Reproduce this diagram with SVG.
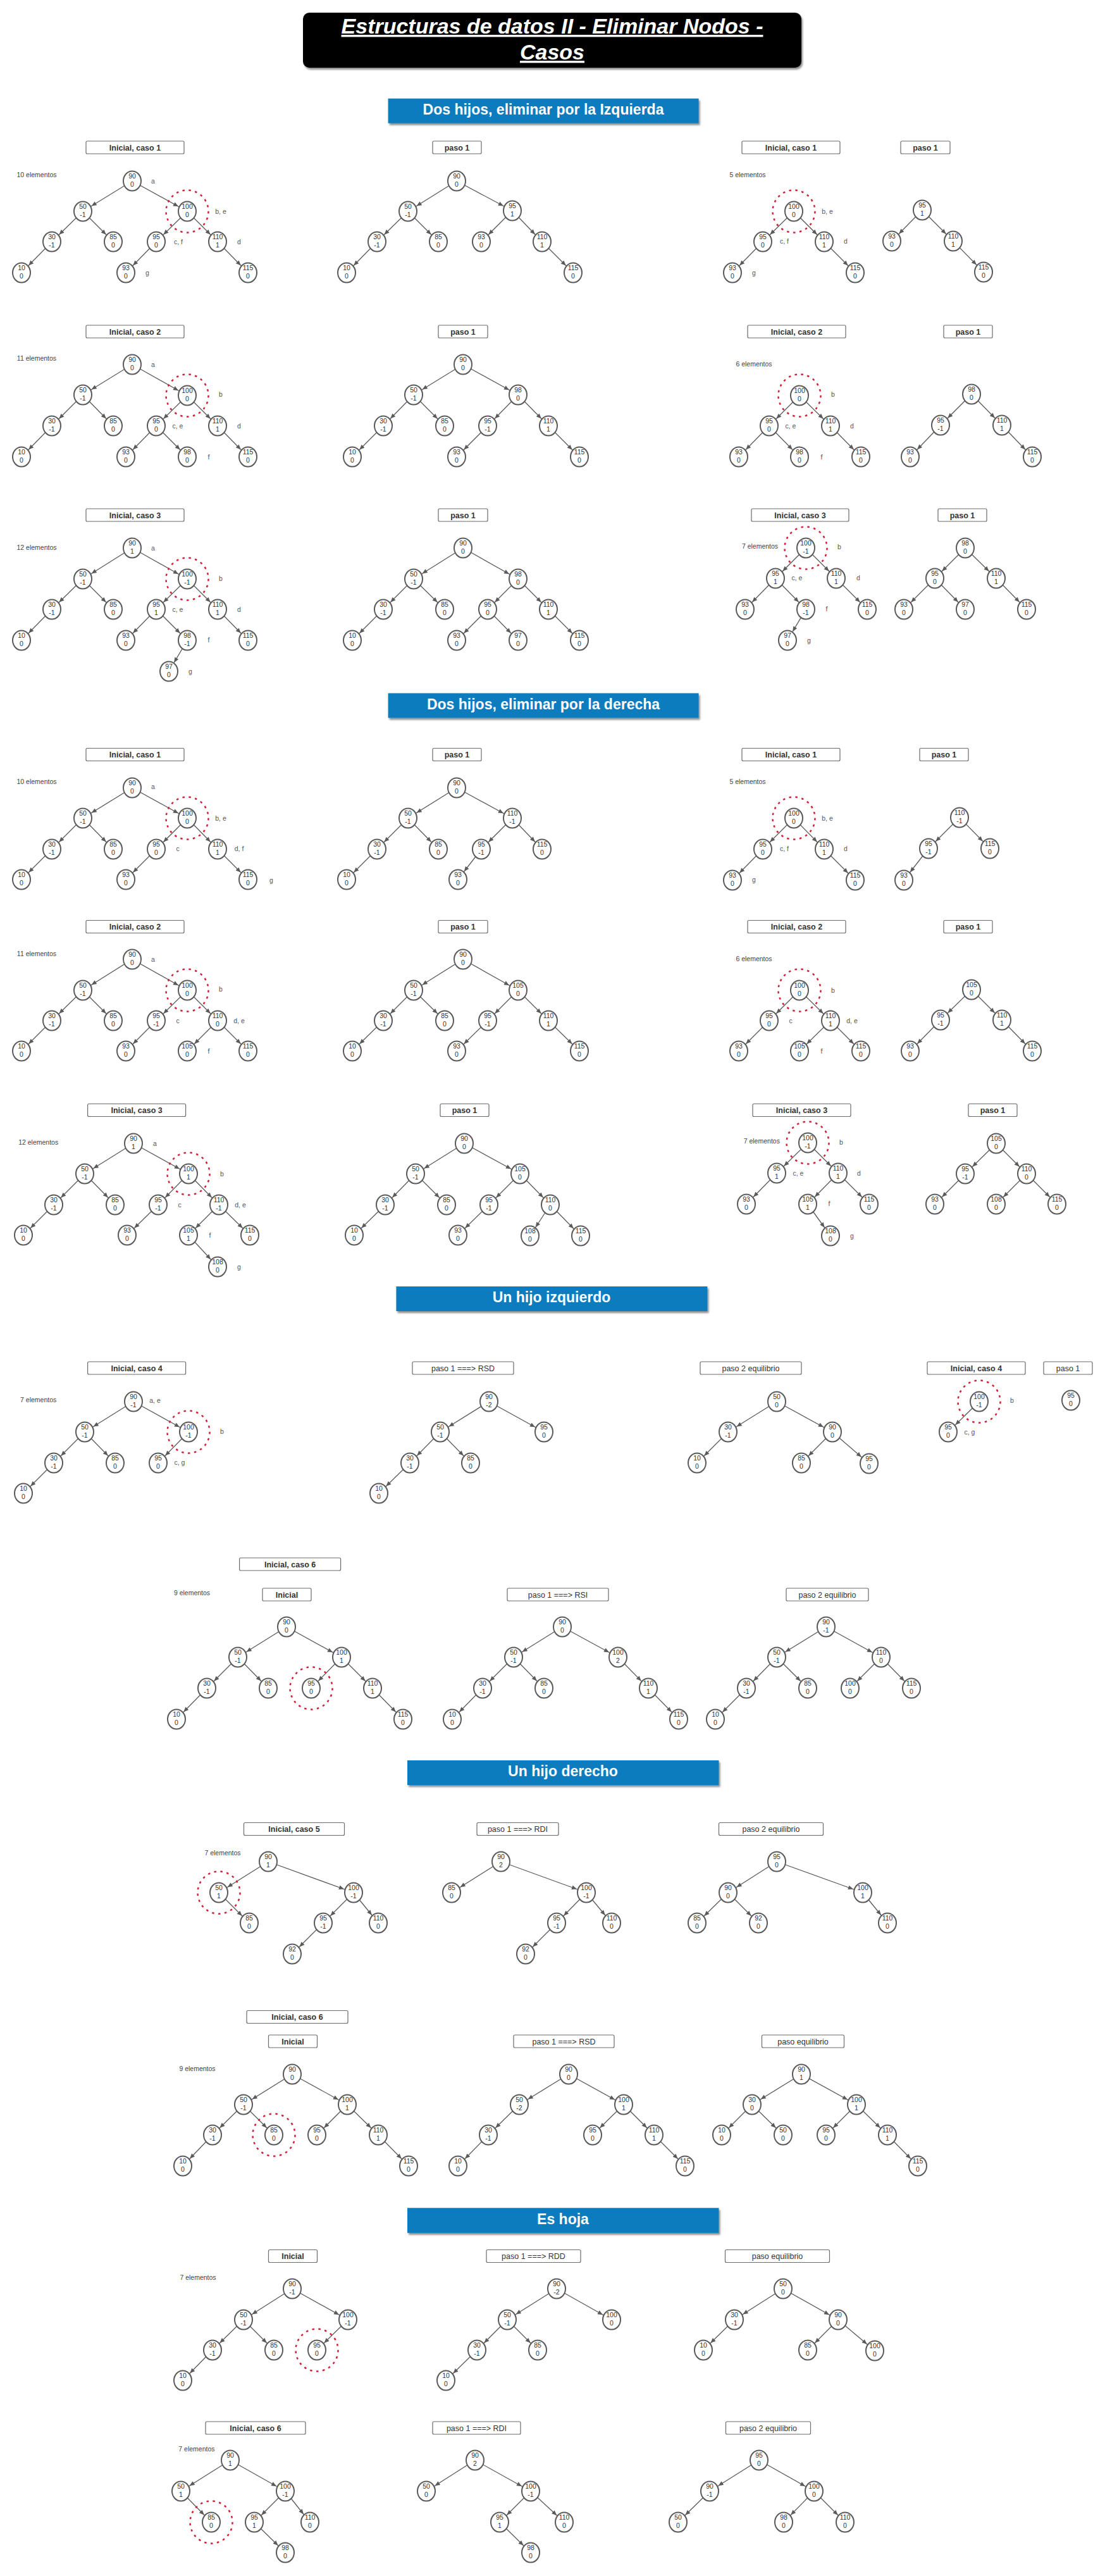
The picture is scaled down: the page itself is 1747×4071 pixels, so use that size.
<svg xmlns="http://www.w3.org/2000/svg" width="1747" height="4071" viewBox="0 0 1747 4071">
<defs>
<marker id="ah" viewBox="-25 -5 10 10" markerWidth="10" markerHeight="10" refX="0" refY="0" markerUnits="userSpaceOnUse" orient="auto"><path d="M-24,-3.4 L-16,0 L-24,3.4 Z" fill="#5a5a5a"/></marker>
<filter id="sh" x="-5%" y="-20%" width="112%" height="150%"><feDropShadow dx="2" dy="3" stdDeviation="1.5" flood-color="#000" flood-opacity="0.45"/></filter>
</defs>
<style>
text{font-family:"Liberation Sans",Arial,Helvetica,sans-serif}
.nd ellipse{fill:#fff;stroke:#5a5a5a;stroke-width:2}
.nd text{font-size:10.5px;fill:#333;text-anchor:middle}
.lbl{font-size:10.5px;fill:#555;text-anchor:middle}
.el{font-size:10.5px;fill:#444;text-anchor:middle}
.bx rect{fill:#fff;stroke:#6b6b6b;stroke-width:1.2}
.bx text{font-size:12.5px;fill:#333;text-anchor:middle}
.b text{font-weight:bold}
.del{fill:none;stroke:#d3213a;stroke-width:2.5;stroke-dasharray:3.5 6.5}
.hd rect{fill:#0e7cbf}
.hd text{font-size:23px;font-weight:bold;fill:#fff;text-anchor:middle}
.tt{font-size:34px;font-weight:bold;font-style:italic;text-decoration:underline;fill:#fff;text-anchor:middle}
#connectors line{stroke:#5a5a5a;stroke-width:1.3;marker-end:url(#ah)}
</style>
<rect width="1747" height="4071" fill="#fff"/>
<g id="title"><rect x="479" y="20" width="788" height="87" rx="10" fill="#000" filter="url(#sh)"/><text class="tt" x="873" y="53">Estructuras de datos II - Eliminar Nodos -</text><text class="tt" x="873" y="94">Casos</text></g>
<g id="h1" class="hd"><rect x="613.6" y="155.7" width="491" height="39" filter="url(#sh)"/><text x="859" y="180.5">Dos hijos, eliminar por la Izquierda</text></g>
<g id="h2" class="hd"><rect x="613.6" y="1095.5" width="491" height="39" filter="url(#sh)"/><text x="859" y="1120.5">Dos hijos, eliminar por la derecha</text></g>
<g id="h3" class="hd"><rect x="626.4" y="2033" width="492" height="39" filter="url(#sh)"/><text x="872" y="2058">Un hijo izquierdo</text></g>
<g id="h4" class="hd"><rect x="644" y="2782" width="492.5" height="39" filter="url(#sh)"/><text x="890" y="2807">Un hijo derecho</text></g>
<g id="h5" class="hd"><rect x="644" y="3489.3" width="492.5" height="39.5" filter="url(#sh)"/><text x="890" y="3514.5">Es hoja</text></g>

<g id="labels-boxes">
<g id="bx1" class="bx b"><rect x="136" y="223" width="155" height="20" rx="2"/><text x="213.5" y="237.5">Inicial, caso 1</text></g>
<g id="bx2" class="bx b"><rect x="684" y="223" width="77" height="20" rx="2"/><text x="722.5" y="237.5">paso 1</text></g>
<g id="bx3" class="bx b"><rect x="1173" y="223" width="155" height="20" rx="2"/><text x="1250.5" y="237.5">Inicial, caso 1</text></g>
<g id="bx4" class="bx b"><rect x="1424" y="223" width="78" height="20" rx="2"/><text x="1463" y="237.5">paso 1</text></g>
<g id="bx5" class="bx b"><rect x="136" y="514" width="155" height="20" rx="2"/><text x="213.5" y="528.5">Inicial, caso 2</text></g>
<g id="bx6" class="bx b"><rect x="693" y="514" width="78" height="20" rx="2"/><text x="732" y="528.5">paso 1</text></g>
<g id="bx7" class="bx b"><rect x="1182" y="514" width="155" height="20" rx="2"/><text x="1259.5" y="528.5">Inicial, caso 2</text></g>
<g id="bx8" class="bx b"><rect x="1492" y="514" width="77" height="20" rx="2"/><text x="1530.5" y="528.5">paso 1</text></g>
<g id="bx9" class="bx b"><rect x="136" y="804" width="155" height="20" rx="2"/><text x="213.5" y="818.5">Inicial, caso 3</text></g>
<g id="bx10" class="bx b"><rect x="693" y="804" width="78" height="20" rx="2"/><text x="732" y="818.5">paso 1</text></g>
<g id="bx11" class="bx b"><rect x="1188" y="804" width="154" height="20" rx="2"/><text x="1265" y="818.5">Inicial, caso 3</text></g>
<g id="bx12" class="bx b"><rect x="1483" y="804" width="77" height="20" rx="2"/><text x="1521.5" y="818.5">paso 1</text></g>
<g id="bx13" class="bx b"><rect x="136" y="1182.5" width="155" height="20" rx="2"/><text x="213.5" y="1197">Inicial, caso 1</text></g>
<g id="bx14" class="bx b"><rect x="684" y="1182.5" width="77" height="20" rx="2"/><text x="722.5" y="1197">paso 1</text></g>
<g id="bx15" class="bx b"><rect x="1173" y="1182.5" width="155" height="20" rx="2"/><text x="1250.5" y="1197">Inicial, caso 1</text></g>
<g id="bx16" class="bx b"><rect x="1454" y="1182.5" width="77" height="20" rx="2"/><text x="1492.5" y="1197">paso 1</text></g>
<g id="bx17" class="bx b"><rect x="136" y="1454.5" width="155" height="20" rx="2"/><text x="213.5" y="1469">Inicial, caso 2</text></g>
<g id="bx18" class="bx b"><rect x="693" y="1454.5" width="78" height="20" rx="2"/><text x="732" y="1469">paso 1</text></g>
<g id="bx19" class="bx b"><rect x="1182" y="1454.5" width="155" height="20" rx="2"/><text x="1259.5" y="1469">Inicial, caso 2</text></g>
<g id="bx20" class="bx b"><rect x="1492" y="1454.5" width="77" height="20" rx="2"/><text x="1530.5" y="1469">paso 1</text></g>
<g id="bx21" class="bx b"><rect x="138.6" y="1744.5" width="155" height="20" rx="2"/><text x="216.1" y="1759">Inicial, caso 3</text></g>
<g id="bx22" class="bx b"><rect x="696" y="1744.5" width="77" height="20" rx="2"/><text x="734.5" y="1759">paso 1</text></g>
<g id="bx23" class="bx b"><rect x="1190" y="1744.5" width="155" height="20" rx="2"/><text x="1267.5" y="1759">Inicial, caso 3</text></g>
<g id="bx24" class="bx b"><rect x="1531" y="1744.5" width="77" height="20" rx="2"/><text x="1569.5" y="1759">paso 1</text></g>
<g id="bx25" class="bx b"><rect x="138.6" y="2152" width="155" height="20" rx="2"/><text x="216.1" y="2166.5">Inicial, caso 4</text></g>
<g id="bx26" class="bx"><rect x="652" y="2152" width="160" height="20" rx="2"/><text x="732" y="2166.5">paso 1 ===&gt; RSD</text></g>
<g id="bx27" class="bx"><rect x="1107" y="2152" width="160" height="20" rx="2"/><text x="1187" y="2166.5">paso 2 equilibrio</text></g>
<g id="bx28" class="bx b"><rect x="1466" y="2152" width="155" height="20" rx="2"/><text x="1543.5" y="2166.5">Inicial, caso 4</text></g>
<g id="bx29" class="bx"><rect x="1650" y="2152" width="77" height="20" rx="2"/><text x="1688.5" y="2166.5">paso 1</text></g>
<g id="bx30" class="bx b"><rect x="378.6" y="2462" width="160" height="20" rx="2"/><text x="458.6" y="2476.5">Inicial, caso 6</text></g>
<g id="bx31" class="bx b"><rect x="415" y="2510" width="77" height="20" rx="2"/><text x="453.5" y="2524.5">Inicial</text></g>
<g id="bx32" class="bx"><rect x="802" y="2510" width="160" height="20" rx="2"/><text x="882" y="2524.5">paso 1 ===&gt; RSI</text></g>
<g id="bx33" class="bx"><rect x="1243" y="2510" width="130" height="20" rx="2"/><text x="1308" y="2524.5">paso 2 equilibrio</text></g>
<g id="bx34" class="bx b"><rect x="385.5" y="2880.5" width="159" height="20" rx="2"/><text x="465" y="2895">Inicial, caso 5</text></g>
<g id="bx35" class="bx"><rect x="754" y="2880.5" width="129" height="20" rx="2"/><text x="818.5" y="2895">paso 1 ===&gt; RDI</text></g>
<g id="bx36" class="bx"><rect x="1136.5" y="2880.5" width="165" height="20" rx="2"/><text x="1219" y="2895">paso 2 equilibrio</text></g>
<g id="bx37" class="bx b"><rect x="390" y="3177.5" width="160" height="20" rx="2"/><text x="470" y="3192">Inicial, caso 6</text></g>
<g id="bx38" class="bx b"><rect x="424.5" y="3216" width="77" height="20" rx="2"/><text x="463" y="3230.5">Inicial</text></g>
<g id="bx39" class="bx"><rect x="812" y="3216" width="159" height="20" rx="2"/><text x="891.5" y="3230.5">paso 1 ===&gt; RSD</text></g>
<g id="bx40" class="bx"><rect x="1204.5" y="3216" width="130" height="20" rx="2"/><text x="1269.5" y="3230.5">paso equilibrio</text></g>
<g id="bx41" class="bx b"><rect x="424.5" y="3555.5" width="77" height="20" rx="2"/><text x="463" y="3570">Inicial</text></g>
<g id="bx42" class="bx"><rect x="769" y="3555.5" width="149" height="20" rx="2"/><text x="843.5" y="3570">paso 1 ===&gt; RDD</text></g>
<g id="bx43" class="bx"><rect x="1146.5" y="3555.5" width="165" height="20" rx="2"/><text x="1229" y="3570">paso equilibrio</text></g>
<g id="bx44" class="bx b"><rect x="325" y="3827" width="158" height="20" rx="2"/><text x="404" y="3841.5">Inicial, caso 6</text></g>
<g id="bx45" class="bx"><rect x="684" y="3827" width="139" height="20" rx="2"/><text x="753.5" y="3841.5">paso 1 ===&gt; RDI</text></g>
<g id="bx46" class="bx"><rect x="1147.5" y="3827" width="134" height="20" rx="2"/><text x="1214.5" y="3841.5">paso 2 equilibrio</text></g>
</g>

<g id="texts">
<text class="el" x="58" y="279.5">10 elementos</text>
<text class="el" x="1182" y="279.5">5 elementos</text>
<text class="el" x="58" y="570">11 elementos</text>
<text class="el" x="1192" y="578.5">6 elementos</text>
<text class="el" x="58" y="868.5">12 elementos</text>
<text class="el" x="1201.5" y="866.8">7 elementos</text>
<text class="el" x="58" y="1239">10 elementos</text>
<text class="el" x="1182" y="1239">5 elementos</text>
<text class="el" x="58" y="1511">11 elementos</text>
<text class="el" x="1192" y="1519.3">6 elementos</text>
<text class="el" x="60.7" y="1809.2">12 elementos</text>
<text class="el" x="1204.3" y="1806.8">7 elementos</text>
<text class="el" x="60.7" y="2216.2">7 elementos</text>
<text class="el" x="303.5" y="2521">9 elementos</text>
<text class="el" x="352" y="2931.8">7 elementos</text>
<text class="el" x="312" y="3272.8">9 elementos</text>
<text class="el" x="313" y="3602.8">7 elementos</text>
<text class="el" x="310.9" y="3873.9">7 elementos</text>
<text class="lbl" x="242" y="289.5">a</text><text class="lbl" x="349" y="337.5">b, e</text><text class="lbl" x="282" y="385.5">c, f</text><text class="lbl" x="378" y="385.5">d</text><text class="lbl" x="233" y="434.5">g</text>
<text class="lbl" x="1308" y="337.5">b, e</text><text class="lbl" x="1240" y="384.5">c, f</text><text class="lbl" x="1337" y="384.5">d</text><text class="lbl" x="1192" y="434.5">g</text>
<text class="lbl" x="242" y="579.5">a</text><text class="lbl" x="349" y="626.5">b</text><text class="lbl" x="281" y="676.5">c, e</text><text class="lbl" x="378" y="676.5">d</text><text class="lbl" x="330" y="725.5">f</text>
<text class="lbl" x="1317" y="626.5">b</text><text class="lbl" x="1250" y="676.5">c, e</text><text class="lbl" x="1347" y="676.5">d</text><text class="lbl" x="1299" y="725.5">f</text>
<text class="lbl" x="242" y="869.5">a</text><text class="lbl" x="349" y="917.5">b</text><text class="lbl" x="281" y="966.5">c, e</text><text class="lbl" x="378" y="966.5">d</text><text class="lbl" x="330" y="1014.5">f</text><text class="lbl" x="301" y="1064.5">g</text>
<text class="lbl" x="1327" y="867.5">b</text><text class="lbl" x="1260" y="916.5">c, e</text><text class="lbl" x="1357" y="916.5">d</text><text class="lbl" x="1307" y="965.5">f</text><text class="lbl" x="1279" y="1015.5">g</text>
<text class="lbl" x="242" y="1247">a</text><text class="lbl" x="349" y="1296.5">b, e</text><text class="lbl" x="281" y="1344.5">c</text><text class="lbl" x="378" y="1344.5">d, f</text><text class="lbl" x="429" y="1394.5">g</text>
<text class="lbl" x="1308" y="1296.5">b, e</text><text class="lbl" x="1240" y="1344.5">c, f</text><text class="lbl" x="1337" y="1344.5">d</text><text class="lbl" x="1192" y="1393.5">g</text>
<text class="lbl" x="242" y="1519.5">a</text><text class="lbl" x="349" y="1567">b</text><text class="lbl" x="281" y="1616.5">c</text><text class="lbl" x="378" y="1616.5">d, e</text><text class="lbl" x="330" y="1664.5">f</text>
<text class="lbl" x="1317" y="1568.5">b</text><text class="lbl" x="1250" y="1616.5">c</text><text class="lbl" x="1347" y="1616.5">d, e</text><text class="lbl" x="1299" y="1664.5">f</text>
<text class="lbl" x="245" y="1810.5">a</text><text class="lbl" x="351" y="1858.5">b</text><text class="lbl" x="284" y="1907.5">c</text><text class="lbl" x="380" y="1907.5">d, e</text><text class="lbl" x="332" y="1955.5">f</text><text class="lbl" x="378" y="2005.5">g</text>
<text class="lbl" x="1330" y="1808.5">b</text><text class="lbl" x="1262" y="1857.5">c, e</text><text class="lbl" x="1358" y="1857.5">d</text><text class="lbl" x="1311" y="1905.5">f</text><text class="lbl" x="1347" y="1956.5">g</text>
<text class="lbl" x="245" y="2216.5">a, e</text><text class="lbl" x="351" y="2265.5">b</text><text class="lbl" x="284" y="2314.5">c, g</text>
<text class="lbl" x="1600" y="2216.5">b</text><text class="lbl" x="1533" y="2266.5">c, g</text>
</g>

<g id="connectors">
<line x1="209" y1="286" x2="131" y2="334"/><line x1="209" y1="286" x2="296" y2="334"/><line x1="131" y1="334" x2="82" y2="382"/><line x1="131" y1="334" x2="179" y2="382"/><line x1="296" y1="334" x2="247" y2="382"/><line x1="296" y1="334" x2="344" y2="382"/><line x1="82" y1="382" x2="34" y2="431"/><line x1="247" y1="382" x2="199" y2="431"/><line x1="344" y1="382" x2="392" y2="431"/>
<line x1="722" y1="286" x2="645" y2="334"/><line x1="722" y1="286" x2="810" y2="333"/><line x1="645" y1="334" x2="596" y2="382"/><line x1="645" y1="334" x2="693" y2="382"/><line x1="810" y1="333" x2="761" y2="382"/><line x1="810" y1="333" x2="857" y2="382"/><line x1="596" y1="382" x2="548" y2="431"/><line x1="857" y1="382" x2="906" y2="431"/>
<line x1="1255" y1="334" x2="1206" y2="382"/><line x1="1255" y1="334" x2="1303" y2="382"/><line x1="1206" y1="382" x2="1158" y2="431"/><line x1="1303" y1="382" x2="1352" y2="431"/>
<line x1="1458" y1="332" x2="1410" y2="381"/><line x1="1458" y1="332" x2="1507" y2="381"/><line x1="1507" y1="381" x2="1555" y2="430"/>
<line x1="209" y1="576" x2="131" y2="624"/><line x1="209" y1="576" x2="296" y2="625"/><line x1="131" y1="624" x2="82" y2="673"/><line x1="131" y1="624" x2="179" y2="673"/><line x1="296" y1="625" x2="247" y2="673"/><line x1="296" y1="625" x2="344" y2="673"/><line x1="82" y1="673" x2="34" y2="722"/><line x1="247" y1="673" x2="199" y2="722"/><line x1="247" y1="673" x2="296" y2="722"/><line x1="344" y1="673" x2="392" y2="722"/>
<line x1="732" y1="576" x2="654" y2="624"/><line x1="732" y1="576" x2="819" y2="624"/><line x1="654" y1="624" x2="606" y2="673"/><line x1="654" y1="624" x2="703" y2="673"/><line x1="819" y1="624" x2="771" y2="673"/><line x1="819" y1="624" x2="867" y2="673"/><line x1="606" y1="673" x2="557" y2="722"/><line x1="771" y1="673" x2="722" y2="722"/><line x1="867" y1="673" x2="916" y2="722"/>
<line x1="1264" y1="625" x2="1216" y2="673"/><line x1="1264" y1="625" x2="1313" y2="673"/><line x1="1216" y1="673" x2="1168" y2="722"/><line x1="1216" y1="673" x2="1264" y2="722"/><line x1="1313" y1="673" x2="1361" y2="722"/>
<line x1="1536" y1="623" x2="1487" y2="672"/><line x1="1536" y1="623" x2="1584" y2="672"/><line x1="1487" y1="672" x2="1439" y2="722"/><line x1="1584" y1="672" x2="1632" y2="722"/>
<line x1="209" y1="866" x2="131" y2="915"/><line x1="209" y1="866" x2="296" y2="915"/><line x1="131" y1="915" x2="82" y2="963"/><line x1="131" y1="915" x2="179" y2="963"/><line x1="296" y1="915" x2="247" y2="963"/><line x1="296" y1="915" x2="344" y2="963"/><line x1="82" y1="963" x2="34" y2="1012"/><line x1="247" y1="963" x2="199" y2="1012"/><line x1="247" y1="963" x2="296" y2="1012"/><line x1="344" y1="963" x2="392" y2="1012"/><line x1="296" y1="1012" x2="267" y2="1061"/>
<line x1="732" y1="866" x2="654" y2="915"/><line x1="732" y1="866" x2="819" y2="915"/><line x1="654" y1="915" x2="606" y2="963"/><line x1="654" y1="915" x2="703" y2="963"/><line x1="819" y1="915" x2="771" y2="963"/><line x1="819" y1="915" x2="867" y2="963"/><line x1="606" y1="963" x2="557" y2="1012"/><line x1="771" y1="963" x2="722" y2="1012"/><line x1="771" y1="963" x2="819" y2="1012"/><line x1="867" y1="963" x2="916" y2="1012"/>
<line x1="1274" y1="866" x2="1226" y2="914"/><line x1="1274" y1="866" x2="1322" y2="914"/><line x1="1226" y1="914" x2="1178" y2="963"/><line x1="1226" y1="914" x2="1274" y2="963"/><line x1="1322" y1="914" x2="1371" y2="963"/><line x1="1274" y1="963" x2="1245" y2="1012"/>
<line x1="1526" y1="866" x2="1478" y2="914"/><line x1="1526" y1="866" x2="1575" y2="914"/><line x1="1478" y1="914" x2="1429" y2="963"/><line x1="1478" y1="914" x2="1526" y2="963"/><line x1="1575" y1="914" x2="1623" y2="963"/>
<line x1="209" y1="1245" x2="131" y2="1293"/><line x1="209" y1="1245" x2="296" y2="1293"/><line x1="131" y1="1293" x2="82" y2="1342"/><line x1="131" y1="1293" x2="179" y2="1342"/><line x1="296" y1="1293" x2="247" y2="1342"/><line x1="296" y1="1293" x2="344" y2="1342"/><line x1="82" y1="1342" x2="34" y2="1390"/><line x1="247" y1="1342" x2="199" y2="1390"/><line x1="344" y1="1342" x2="392" y2="1390"/>
<line x1="722" y1="1245" x2="645" y2="1293"/><line x1="722" y1="1245" x2="810" y2="1293"/><line x1="645" y1="1293" x2="596" y2="1342"/><line x1="645" y1="1293" x2="693" y2="1342"/><line x1="810" y1="1293" x2="761" y2="1342"/><line x1="810" y1="1293" x2="857" y2="1342"/><line x1="596" y1="1342" x2="548" y2="1390"/><line x1="761" y1="1342" x2="724" y2="1390"/>
<line x1="1255" y1="1293" x2="1206" y2="1342"/><line x1="1255" y1="1293" x2="1303" y2="1342"/><line x1="1206" y1="1342" x2="1158" y2="1391"/><line x1="1303" y1="1342" x2="1352" y2="1391"/>
<line x1="1517" y1="1292" x2="1468" y2="1341"/><line x1="1517" y1="1292" x2="1565" y2="1341"/><line x1="1468" y1="1341" x2="1429" y2="1391"/>
<line x1="209" y1="1516" x2="131" y2="1565"/><line x1="209" y1="1516" x2="296" y2="1565"/><line x1="131" y1="1565" x2="82" y2="1613"/><line x1="131" y1="1565" x2="179" y2="1613"/><line x1="296" y1="1565" x2="247" y2="1613"/><line x1="296" y1="1565" x2="344" y2="1613"/><line x1="82" y1="1613" x2="34" y2="1661"/><line x1="247" y1="1613" x2="199" y2="1661"/><line x1="344" y1="1613" x2="296" y2="1661"/><line x1="344" y1="1613" x2="392" y2="1661"/>
<line x1="732" y1="1516" x2="654" y2="1565"/><line x1="732" y1="1516" x2="819" y2="1565"/><line x1="654" y1="1565" x2="606" y2="1613"/><line x1="654" y1="1565" x2="703" y2="1613"/><line x1="819" y1="1565" x2="771" y2="1613"/><line x1="819" y1="1565" x2="867" y2="1613"/><line x1="606" y1="1613" x2="557" y2="1661"/><line x1="771" y1="1613" x2="722" y2="1661"/><line x1="867" y1="1613" x2="916" y2="1661"/>
<line x1="1264" y1="1565" x2="1216" y2="1613"/><line x1="1264" y1="1565" x2="1313" y2="1613"/><line x1="1216" y1="1613" x2="1168" y2="1661"/><line x1="1313" y1="1613" x2="1264" y2="1661"/><line x1="1313" y1="1613" x2="1361" y2="1661"/>
<line x1="1536" y1="1564" x2="1487" y2="1612"/><line x1="1536" y1="1564" x2="1584" y2="1612"/><line x1="1487" y1="1612" x2="1439" y2="1661"/><line x1="1584" y1="1612" x2="1632" y2="1661"/>
<line x1="211" y1="1807" x2="134" y2="1855"/><line x1="211" y1="1807" x2="298" y2="1855"/><line x1="134" y1="1855" x2="85" y2="1904"/><line x1="134" y1="1855" x2="182" y2="1904"/><line x1="298" y1="1855" x2="250" y2="1904"/><line x1="298" y1="1855" x2="346" y2="1904"/><line x1="85" y1="1904" x2="37" y2="1952"/><line x1="250" y1="1904" x2="201" y2="1952"/><line x1="346" y1="1904" x2="298" y2="1952"/><line x1="346" y1="1904" x2="395" y2="1952"/><line x1="298" y1="1952" x2="344" y2="2002"/>
<line x1="734" y1="1807" x2="657" y2="1855"/><line x1="734" y1="1807" x2="822" y2="1855"/><line x1="657" y1="1855" x2="609" y2="1904"/><line x1="657" y1="1855" x2="706" y2="1904"/><line x1="822" y1="1855" x2="773" y2="1904"/><line x1="822" y1="1855" x2="870" y2="1904"/><line x1="609" y1="1904" x2="560" y2="1952"/><line x1="773" y1="1904" x2="724" y2="1952"/><line x1="870" y1="1904" x2="838" y2="1953"/><line x1="870" y1="1904" x2="918" y2="1953"/>
<line x1="1277" y1="1806" x2="1228" y2="1854"/><line x1="1277" y1="1806" x2="1325" y2="1854"/><line x1="1228" y1="1854" x2="1180" y2="1903"/><line x1="1325" y1="1854" x2="1277" y2="1903"/><line x1="1325" y1="1854" x2="1374" y2="1903"/><line x1="1277" y1="1903" x2="1313" y2="1953"/>
<line x1="1575" y1="1807" x2="1526" y2="1855"/><line x1="1575" y1="1807" x2="1623" y2="1855"/><line x1="1526" y1="1855" x2="1478" y2="1903"/><line x1="1623" y1="1855" x2="1575" y2="1903"/><line x1="1623" y1="1855" x2="1671" y2="1903"/>
<line x1="211" y1="2215" x2="134" y2="2263"/><line x1="211" y1="2215" x2="298" y2="2263"/><line x1="134" y1="2263" x2="85" y2="2312"/><line x1="134" y1="2263" x2="182" y2="2312"/><line x1="298" y1="2263" x2="250" y2="2312"/><line x1="85" y1="2312" x2="37" y2="2360"/>
<line x1="773" y1="2215" x2="696" y2="2263"/><line x1="773" y1="2215" x2="860" y2="2263"/><line x1="696" y1="2263" x2="648" y2="2312"/><line x1="696" y1="2263" x2="744" y2="2312"/><line x1="648" y1="2312" x2="599" y2="2360"/>
<line x1="1228" y1="2215" x2="1151" y2="2263"/><line x1="1228" y1="2215" x2="1316" y2="2263"/><line x1="1151" y1="2263" x2="1102" y2="2312"/><line x1="1316" y1="2263" x2="1267" y2="2312"/><line x1="1316" y1="2263" x2="1374" y2="2313"/>
<line x1="1548" y1="2215" x2="1499" y2="2263"/>
<line x1="453" y1="2571" x2="376" y2="2619"/><line x1="453" y1="2571" x2="540" y2="2619"/><line x1="376" y1="2619" x2="327" y2="2668"/><line x1="376" y1="2619" x2="424" y2="2668"/><line x1="540" y1="2619" x2="492" y2="2668"/><line x1="540" y1="2619" x2="589" y2="2668"/><line x1="327" y1="2668" x2="279" y2="2717"/><line x1="589" y1="2668" x2="637" y2="2717"/>
<line x1="889" y1="2571" x2="812" y2="2619"/><line x1="889" y1="2571" x2="977" y2="2619"/><line x1="812" y1="2619" x2="763" y2="2668"/><line x1="812" y1="2619" x2="860" y2="2668"/><line x1="977" y1="2619" x2="1025" y2="2668"/><line x1="763" y1="2668" x2="715" y2="2717"/><line x1="1025" y1="2668" x2="1073" y2="2717"/>
<line x1="1306" y1="2571" x2="1228" y2="2619"/><line x1="1306" y1="2571" x2="1393" y2="2619"/><line x1="1228" y1="2619" x2="1180" y2="2668"/><line x1="1228" y1="2619" x2="1277" y2="2668"/><line x1="1393" y1="2619" x2="1344" y2="2668"/><line x1="1393" y1="2619" x2="1441" y2="2668"/><line x1="1180" y1="2668" x2="1131" y2="2717"/>
<line x1="424" y1="2942" x2="346" y2="2991"/><line x1="424" y1="2942" x2="559" y2="2991"/><line x1="346" y1="2991" x2="394" y2="3039"/><line x1="559" y1="2991" x2="511" y2="3039"/><line x1="559" y1="2991" x2="598" y2="3039"/><line x1="511" y1="3039" x2="462" y2="3088"/>
<line x1="792" y1="2942" x2="714" y2="2991"/><line x1="792" y1="2942" x2="927" y2="2991"/><line x1="927" y1="2991" x2="880" y2="3039"/><line x1="927" y1="2991" x2="967" y2="3039"/><line x1="880" y1="3039" x2="831" y2="3088"/>
<line x1="1228" y1="2942" x2="1151" y2="2991"/><line x1="1228" y1="2942" x2="1364" y2="2991"/><line x1="1151" y1="2991" x2="1102" y2="3039"/><line x1="1151" y1="2991" x2="1199" y2="3039"/><line x1="1364" y1="2991" x2="1403" y2="3039"/>
<line x1="462" y1="3278" x2="385" y2="3326"/><line x1="462" y1="3278" x2="549" y2="3326"/><line x1="385" y1="3326" x2="336" y2="3374"/><line x1="385" y1="3326" x2="433" y2="3374"/><line x1="549" y1="3326" x2="501" y2="3374"/><line x1="549" y1="3326" x2="598" y2="3374"/><line x1="336" y1="3374" x2="289" y2="3423"/><line x1="598" y1="3374" x2="646" y2="3423"/>
<line x1="899" y1="3278" x2="821" y2="3326"/><line x1="899" y1="3278" x2="986" y2="3326"/><line x1="821" y1="3326" x2="772" y2="3374"/><line x1="986" y1="3326" x2="937" y2="3374"/><line x1="986" y1="3326" x2="1034" y2="3374"/><line x1="772" y1="3374" x2="724" y2="3423"/><line x1="1034" y1="3374" x2="1083" y2="3423"/>
<line x1="1267" y1="3278" x2="1189" y2="3326"/><line x1="1267" y1="3278" x2="1354" y2="3326"/><line x1="1189" y1="3326" x2="1141" y2="3374"/><line x1="1189" y1="3326" x2="1238" y2="3374"/><line x1="1354" y1="3326" x2="1306" y2="3374"/><line x1="1354" y1="3326" x2="1403" y2="3374"/><line x1="1403" y1="3374" x2="1451" y2="3423"/>
<line x1="462" y1="3617" x2="385" y2="3666"/><line x1="462" y1="3617" x2="550" y2="3666"/><line x1="385" y1="3666" x2="336" y2="3714"/><line x1="385" y1="3666" x2="433" y2="3714"/><line x1="550" y1="3666" x2="501" y2="3714"/><line x1="336" y1="3714" x2="289" y2="3762"/>
<line x1="880" y1="3617" x2="802" y2="3666"/><line x1="880" y1="3617" x2="967" y2="3666"/><line x1="802" y1="3666" x2="754" y2="3714"/><line x1="802" y1="3666" x2="850" y2="3714"/><line x1="754" y1="3714" x2="705" y2="3762"/>
<line x1="1238" y1="3617" x2="1161" y2="3666"/><line x1="1238" y1="3617" x2="1325" y2="3666"/><line x1="1161" y1="3666" x2="1112" y2="3714"/><line x1="1325" y1="3666" x2="1277" y2="3714"/><line x1="1325" y1="3666" x2="1383" y2="3715"/>
<line x1="364" y1="3888" x2="286" y2="3937"/><line x1="364" y1="3888" x2="451" y2="3937"/><line x1="286" y1="3937" x2="334" y2="3986"/><line x1="451" y1="3937" x2="402" y2="3986"/><line x1="451" y1="3937" x2="490" y2="3986"/><line x1="402" y1="3986" x2="451" y2="4034"/>
<line x1="751" y1="3888" x2="674" y2="3937"/><line x1="751" y1="3888" x2="839" y2="3937"/><line x1="839" y1="3937" x2="790" y2="3986"/><line x1="839" y1="3937" x2="892" y2="3986"/><line x1="790" y1="3986" x2="839" y2="4034"/>
<line x1="1200" y1="3888" x2="1122" y2="3937"/><line x1="1200" y1="3888" x2="1287" y2="3937"/><line x1="1122" y1="3937" x2="1072" y2="3986"/><line x1="1287" y1="3937" x2="1239" y2="3986"/><line x1="1287" y1="3937" x2="1336" y2="3986"/>
</g>

<g id="nodes">
<g id="t1n90" class="nd" transform="translate(209 286)"><ellipse rx="14" ry="15.5"/><text y="-4">90</text><text y="8.5">0</text></g>
<g id="t1n50" class="nd" transform="translate(131 334)"><ellipse rx="14" ry="15.5"/><text y="-4">50</text><text y="8.5">-1</text></g>
<g id="t1n100" class="nd" transform="translate(296 334)"><ellipse rx="14" ry="15.5"/><text y="-4">100</text><text y="8.5">0</text><circle class="del" r="33.5"/></g>
<g id="t1n30" class="nd" transform="translate(82 382)"><ellipse rx="14" ry="15.5"/><text y="-4">30</text><text y="8.5">-1</text></g>
<g id="t1n85" class="nd" transform="translate(179 382)"><ellipse rx="14" ry="15.5"/><text y="-4">85</text><text y="8.5">0</text></g>
<g id="t1n95" class="nd" transform="translate(247 382)"><ellipse rx="14" ry="15.5"/><text y="-4">95</text><text y="8.5">0</text></g>
<g id="t1n110" class="nd" transform="translate(344 382)"><ellipse rx="14" ry="15.5"/><text y="-4">110</text><text y="8.5">1</text></g>
<g id="t1n10" class="nd" transform="translate(34 431)"><ellipse rx="14" ry="15.5"/><text y="-4">10</text><text y="8.5">0</text></g>
<g id="t1n93" class="nd" transform="translate(199 431)"><ellipse rx="14" ry="15.5"/><text y="-4">93</text><text y="8.5">0</text></g>
<g id="t1n115" class="nd" transform="translate(392 431)"><ellipse rx="14" ry="15.5"/><text y="-4">115</text><text y="8.5">0</text></g>

<g id="t2n90" class="nd" transform="translate(722 286)"><ellipse rx="14" ry="15.5"/><text y="-4">90</text><text y="8.5">0</text></g>
<g id="t2n50" class="nd" transform="translate(645 334)"><ellipse rx="14" ry="15.5"/><text y="-4">50</text><text y="8.5">-1</text></g>
<g id="t2n95" class="nd" transform="translate(810 333)"><ellipse rx="14" ry="15.5"/><text y="-4">95</text><text y="8.5">1</text></g>
<g id="t2n30" class="nd" transform="translate(596 382)"><ellipse rx="14" ry="15.5"/><text y="-4">30</text><text y="8.5">-1</text></g>
<g id="t2n85" class="nd" transform="translate(693 382)"><ellipse rx="14" ry="15.5"/><text y="-4">85</text><text y="8.5">0</text></g>
<g id="t2n93" class="nd" transform="translate(761 382)"><ellipse rx="14" ry="15.5"/><text y="-4">93</text><text y="8.5">0</text></g>
<g id="t2n110" class="nd" transform="translate(857 382)"><ellipse rx="14" ry="15.5"/><text y="-4">110</text><text y="8.5">1</text></g>
<g id="t2n10" class="nd" transform="translate(548 431)"><ellipse rx="14" ry="15.5"/><text y="-4">10</text><text y="8.5">0</text></g>
<g id="t2n115" class="nd" transform="translate(906 431)"><ellipse rx="14" ry="15.5"/><text y="-4">115</text><text y="8.5">0</text></g>

<g id="t3n100" class="nd" transform="translate(1255 334)"><ellipse rx="14" ry="15.5"/><text y="-4">100</text><text y="8.5">0</text><circle class="del" r="33.5"/></g>
<g id="t3n95" class="nd" transform="translate(1206 382)"><ellipse rx="14" ry="15.5"/><text y="-4">95</text><text y="8.5">0</text></g>
<g id="t3n110" class="nd" transform="translate(1303 382)"><ellipse rx="14" ry="15.5"/><text y="-4">110</text><text y="8.5">1</text></g>
<g id="t3n93" class="nd" transform="translate(1158 431)"><ellipse rx="14" ry="15.5"/><text y="-4">93</text><text y="8.5">0</text></g>
<g id="t3n115" class="nd" transform="translate(1352 431)"><ellipse rx="14" ry="15.5"/><text y="-4">115</text><text y="8.5">0</text></g>

<g id="t4n95" class="nd" transform="translate(1458 332)"><ellipse rx="14" ry="15.5"/><text y="-4">95</text><text y="8.5">1</text></g>
<g id="t4n93" class="nd" transform="translate(1410 381)"><ellipse rx="14" ry="15.5"/><text y="-4">93</text><text y="8.5">0</text></g>
<g id="t4n110" class="nd" transform="translate(1507 381)"><ellipse rx="14" ry="15.5"/><text y="-4">110</text><text y="8.5">1</text></g>
<g id="t4n115" class="nd" transform="translate(1555 430)"><ellipse rx="14" ry="15.5"/><text y="-4">115</text><text y="8.5">0</text></g>

<g id="t5n90" class="nd" transform="translate(209 576)"><ellipse rx="14" ry="15.5"/><text y="-4">90</text><text y="8.5">0</text></g>
<g id="t5n50" class="nd" transform="translate(131 624)"><ellipse rx="14" ry="15.5"/><text y="-4">50</text><text y="8.5">-1</text></g>
<g id="t5n100" class="nd" transform="translate(296 625)"><ellipse rx="14" ry="15.5"/><text y="-4">100</text><text y="8.5">0</text><circle class="del" r="33.5"/></g>
<g id="t5n30" class="nd" transform="translate(82 673)"><ellipse rx="14" ry="15.5"/><text y="-4">30</text><text y="8.5">-1</text></g>
<g id="t5n85" class="nd" transform="translate(179 673)"><ellipse rx="14" ry="15.5"/><text y="-4">85</text><text y="8.5">0</text></g>
<g id="t5n95" class="nd" transform="translate(247 673)"><ellipse rx="14" ry="15.5"/><text y="-4">95</text><text y="8.5">0</text></g>
<g id="t5n110" class="nd" transform="translate(344 673)"><ellipse rx="14" ry="15.5"/><text y="-4">110</text><text y="8.5">1</text></g>
<g id="t5n10" class="nd" transform="translate(34 722)"><ellipse rx="14" ry="15.5"/><text y="-4">10</text><text y="8.5">0</text></g>
<g id="t5n93" class="nd" transform="translate(199 722)"><ellipse rx="14" ry="15.5"/><text y="-4">93</text><text y="8.5">0</text></g>
<g id="t5n98" class="nd" transform="translate(296 722)"><ellipse rx="14" ry="15.5"/><text y="-4">98</text><text y="8.5">0</text></g>
<g id="t5n115" class="nd" transform="translate(392 722)"><ellipse rx="14" ry="15.5"/><text y="-4">115</text><text y="8.5">0</text></g>

<g id="t6n90" class="nd" transform="translate(732 576)"><ellipse rx="14" ry="15.5"/><text y="-4">90</text><text y="8.5">0</text></g>
<g id="t6n50" class="nd" transform="translate(654 624)"><ellipse rx="14" ry="15.5"/><text y="-4">50</text><text y="8.5">-1</text></g>
<g id="t6n98" class="nd" transform="translate(819 624)"><ellipse rx="14" ry="15.5"/><text y="-4">98</text><text y="8.5">0</text></g>
<g id="t6n30" class="nd" transform="translate(606 673)"><ellipse rx="14" ry="15.5"/><text y="-4">30</text><text y="8.5">-1</text></g>
<g id="t6n85" class="nd" transform="translate(703 673)"><ellipse rx="14" ry="15.5"/><text y="-4">85</text><text y="8.5">0</text></g>
<g id="t6n95" class="nd" transform="translate(771 673)"><ellipse rx="14" ry="15.5"/><text y="-4">95</text><text y="8.5">-1</text></g>
<g id="t6n110" class="nd" transform="translate(867 673)"><ellipse rx="14" ry="15.5"/><text y="-4">110</text><text y="8.5">1</text></g>
<g id="t6n10" class="nd" transform="translate(557 722)"><ellipse rx="14" ry="15.5"/><text y="-4">10</text><text y="8.5">0</text></g>
<g id="t6n93" class="nd" transform="translate(722 722)"><ellipse rx="14" ry="15.5"/><text y="-4">93</text><text y="8.5">0</text></g>
<g id="t6n115" class="nd" transform="translate(916 722)"><ellipse rx="14" ry="15.5"/><text y="-4">115</text><text y="8.5">0</text></g>

<g id="t7n100" class="nd" transform="translate(1264 625)"><ellipse rx="14" ry="15.5"/><text y="-4">100</text><text y="8.5">0</text><circle class="del" r="33.5"/></g>
<g id="t7n95" class="nd" transform="translate(1216 673)"><ellipse rx="14" ry="15.5"/><text y="-4">95</text><text y="8.5">0</text></g>
<g id="t7n110" class="nd" transform="translate(1313 673)"><ellipse rx="14" ry="15.5"/><text y="-4">110</text><text y="8.5">1</text></g>
<g id="t7n93" class="nd" transform="translate(1168 722)"><ellipse rx="14" ry="15.5"/><text y="-4">93</text><text y="8.5">0</text></g>
<g id="t7n98" class="nd" transform="translate(1264 722)"><ellipse rx="14" ry="15.5"/><text y="-4">98</text><text y="8.5">0</text></g>
<g id="t7n115" class="nd" transform="translate(1361 722)"><ellipse rx="14" ry="15.5"/><text y="-4">115</text><text y="8.5">0</text></g>

<g id="t8n98" class="nd" transform="translate(1536 623)"><ellipse rx="14" ry="15.5"/><text y="-4">98</text><text y="8.5">0</text></g>
<g id="t8n95" class="nd" transform="translate(1487 672)"><ellipse rx="14" ry="15.5"/><text y="-4">95</text><text y="8.5">-1</text></g>
<g id="t8n110" class="nd" transform="translate(1584 672)"><ellipse rx="14" ry="15.5"/><text y="-4">110</text><text y="8.5">1</text></g>
<g id="t8n93" class="nd" transform="translate(1439 722)"><ellipse rx="14" ry="15.5"/><text y="-4">93</text><text y="8.5">0</text></g>
<g id="t8n115" class="nd" transform="translate(1632 722)"><ellipse rx="14" ry="15.5"/><text y="-4">115</text><text y="8.5">0</text></g>

<g id="t9n90" class="nd" transform="translate(209 866)"><ellipse rx="14" ry="15.5"/><text y="-4">90</text><text y="8.5">1</text></g>
<g id="t9n50" class="nd" transform="translate(131 915)"><ellipse rx="14" ry="15.5"/><text y="-4">50</text><text y="8.5">-1</text></g>
<g id="t9n100" class="nd" transform="translate(296 915)"><ellipse rx="14" ry="15.5"/><text y="-4">100</text><text y="8.5">-1</text><circle class="del" r="33.5"/></g>
<g id="t9n30" class="nd" transform="translate(82 963)"><ellipse rx="14" ry="15.5"/><text y="-4">30</text><text y="8.5">-1</text></g>
<g id="t9n85" class="nd" transform="translate(179 963)"><ellipse rx="14" ry="15.5"/><text y="-4">85</text><text y="8.5">0</text></g>
<g id="t9n95" class="nd" transform="translate(247 963)"><ellipse rx="14" ry="15.5"/><text y="-4">95</text><text y="8.5">1</text></g>
<g id="t9n110" class="nd" transform="translate(344 963)"><ellipse rx="14" ry="15.5"/><text y="-4">110</text><text y="8.5">1</text></g>
<g id="t9n10" class="nd" transform="translate(34 1012)"><ellipse rx="14" ry="15.5"/><text y="-4">10</text><text y="8.5">0</text></g>
<g id="t9n93" class="nd" transform="translate(199 1012)"><ellipse rx="14" ry="15.5"/><text y="-4">93</text><text y="8.5">0</text></g>
<g id="t9n98" class="nd" transform="translate(296 1012)"><ellipse rx="14" ry="15.5"/><text y="-4">98</text><text y="8.5">-1</text></g>
<g id="t9n115" class="nd" transform="translate(392 1012)"><ellipse rx="14" ry="15.5"/><text y="-4">115</text><text y="8.5">0</text></g>
<g id="t9n97" class="nd" transform="translate(267 1061)"><ellipse rx="14" ry="15.5"/><text y="-4">97</text><text y="8.5">0</text></g>

<g id="t10n90" class="nd" transform="translate(732 866)"><ellipse rx="14" ry="15.5"/><text y="-4">90</text><text y="8.5">0</text></g>
<g id="t10n50" class="nd" transform="translate(654 915)"><ellipse rx="14" ry="15.5"/><text y="-4">50</text><text y="8.5">-1</text></g>
<g id="t10n98" class="nd" transform="translate(819 915)"><ellipse rx="14" ry="15.5"/><text y="-4">98</text><text y="8.5">0</text></g>
<g id="t10n30" class="nd" transform="translate(606 963)"><ellipse rx="14" ry="15.5"/><text y="-4">30</text><text y="8.5">-1</text></g>
<g id="t10n85" class="nd" transform="translate(703 963)"><ellipse rx="14" ry="15.5"/><text y="-4">85</text><text y="8.5">0</text></g>
<g id="t10n95" class="nd" transform="translate(771 963)"><ellipse rx="14" ry="15.5"/><text y="-4">95</text><text y="8.5">0</text></g>
<g id="t10n110" class="nd" transform="translate(867 963)"><ellipse rx="14" ry="15.5"/><text y="-4">110</text><text y="8.5">1</text></g>
<g id="t10n10" class="nd" transform="translate(557 1012)"><ellipse rx="14" ry="15.5"/><text y="-4">10</text><text y="8.5">0</text></g>
<g id="t10n93" class="nd" transform="translate(722 1012)"><ellipse rx="14" ry="15.5"/><text y="-4">93</text><text y="8.5">0</text></g>
<g id="t10n97" class="nd" transform="translate(819 1012)"><ellipse rx="14" ry="15.5"/><text y="-4">97</text><text y="8.5">0</text></g>
<g id="t10n115" class="nd" transform="translate(916 1012)"><ellipse rx="14" ry="15.5"/><text y="-4">115</text><text y="8.5">0</text></g>

<g id="t11n100" class="nd" transform="translate(1274 866)"><ellipse rx="14" ry="15.5"/><text y="-4">100</text><text y="8.5">-1</text><circle class="del" r="33.5"/></g>
<g id="t11n95" class="nd" transform="translate(1226 914)"><ellipse rx="14" ry="15.5"/><text y="-4">95</text><text y="8.5">1</text></g>
<g id="t11n110" class="nd" transform="translate(1322 914)"><ellipse rx="14" ry="15.5"/><text y="-4">110</text><text y="8.5">1</text></g>
<g id="t11n93" class="nd" transform="translate(1178 963)"><ellipse rx="14" ry="15.5"/><text y="-4">93</text><text y="8.5">0</text></g>
<g id="t11n98" class="nd" transform="translate(1274 963)"><ellipse rx="14" ry="15.5"/><text y="-4">98</text><text y="8.5">-1</text></g>
<g id="t11n115" class="nd" transform="translate(1371 963)"><ellipse rx="14" ry="15.5"/><text y="-4">115</text><text y="8.5">0</text></g>
<g id="t11n97" class="nd" transform="translate(1245 1012)"><ellipse rx="14" ry="15.5"/><text y="-4">97</text><text y="8.5">0</text></g>

<g id="t12n98" class="nd" transform="translate(1526 866)"><ellipse rx="14" ry="15.5"/><text y="-4">98</text><text y="8.5">0</text></g>
<g id="t12n95" class="nd" transform="translate(1478 914)"><ellipse rx="14" ry="15.5"/><text y="-4">95</text><text y="8.5">0</text></g>
<g id="t12n110" class="nd" transform="translate(1575 914)"><ellipse rx="14" ry="15.5"/><text y="-4">110</text><text y="8.5">1</text></g>
<g id="t12n93" class="nd" transform="translate(1429 963)"><ellipse rx="14" ry="15.5"/><text y="-4">93</text><text y="8.5">0</text></g>
<g id="t12n97" class="nd" transform="translate(1526 963)"><ellipse rx="14" ry="15.5"/><text y="-4">97</text><text y="8.5">0</text></g>
<g id="t12n115" class="nd" transform="translate(1623 963)"><ellipse rx="14" ry="15.5"/><text y="-4">115</text><text y="8.5">0</text></g>

<g id="t13n90" class="nd" transform="translate(209 1245)"><ellipse rx="14" ry="15.5"/><text y="-4">90</text><text y="8.5">0</text></g>
<g id="t13n50" class="nd" transform="translate(131 1293)"><ellipse rx="14" ry="15.5"/><text y="-4">50</text><text y="8.5">-1</text></g>
<g id="t13n100" class="nd" transform="translate(296 1293)"><ellipse rx="14" ry="15.5"/><text y="-4">100</text><text y="8.5">0</text><circle class="del" r="33.5"/></g>
<g id="t13n30" class="nd" transform="translate(82 1342)"><ellipse rx="14" ry="15.5"/><text y="-4">30</text><text y="8.5">-1</text></g>
<g id="t13n85" class="nd" transform="translate(179 1342)"><ellipse rx="14" ry="15.5"/><text y="-4">85</text><text y="8.5">0</text></g>
<g id="t13n95" class="nd" transform="translate(247 1342)"><ellipse rx="14" ry="15.5"/><text y="-4">95</text><text y="8.5">0</text></g>
<g id="t13n110" class="nd" transform="translate(344 1342)"><ellipse rx="14" ry="15.5"/><text y="-4">110</text><text y="8.5">1</text></g>
<g id="t13n10" class="nd" transform="translate(34 1390)"><ellipse rx="14" ry="15.5"/><text y="-4">10</text><text y="8.5">0</text></g>
<g id="t13n93" class="nd" transform="translate(199 1390)"><ellipse rx="14" ry="15.5"/><text y="-4">93</text><text y="8.5">0</text></g>
<g id="t13n115" class="nd" transform="translate(392 1390)"><ellipse rx="14" ry="15.5"/><text y="-4">115</text><text y="8.5">0</text></g>

<g id="t14n90" class="nd" transform="translate(722 1245)"><ellipse rx="14" ry="15.5"/><text y="-4">90</text><text y="8.5">0</text></g>
<g id="t14n50" class="nd" transform="translate(645 1293)"><ellipse rx="14" ry="15.5"/><text y="-4">50</text><text y="8.5">-1</text></g>
<g id="t14n110" class="nd" transform="translate(810 1293)"><ellipse rx="14" ry="15.5"/><text y="-4">110</text><text y="8.5">-1</text></g>
<g id="t14n30" class="nd" transform="translate(596 1342)"><ellipse rx="14" ry="15.5"/><text y="-4">30</text><text y="8.5">-1</text></g>
<g id="t14n85" class="nd" transform="translate(693 1342)"><ellipse rx="14" ry="15.5"/><text y="-4">85</text><text y="8.5">0</text></g>
<g id="t14n95" class="nd" transform="translate(761 1342)"><ellipse rx="14" ry="15.5"/><text y="-4">95</text><text y="8.5">-1</text></g>
<g id="t14n115" class="nd" transform="translate(857 1342)"><ellipse rx="14" ry="15.5"/><text y="-4">115</text><text y="8.5">0</text></g>
<g id="t14n10" class="nd" transform="translate(548 1390)"><ellipse rx="14" ry="15.5"/><text y="-4">10</text><text y="8.5">0</text></g>
<g id="t14n93" class="nd" transform="translate(724 1390)"><ellipse rx="14" ry="15.5"/><text y="-4">93</text><text y="8.5">0</text></g>

<g id="t15n100" class="nd" transform="translate(1255 1293)"><ellipse rx="14" ry="15.5"/><text y="-4">100</text><text y="8.5">0</text><circle class="del" r="33.5"/></g>
<g id="t15n95" class="nd" transform="translate(1206 1342)"><ellipse rx="14" ry="15.5"/><text y="-4">95</text><text y="8.5">0</text></g>
<g id="t15n110" class="nd" transform="translate(1303 1342)"><ellipse rx="14" ry="15.5"/><text y="-4">110</text><text y="8.5">1</text></g>
<g id="t15n93" class="nd" transform="translate(1158 1391)"><ellipse rx="14" ry="15.5"/><text y="-4">93</text><text y="8.5">0</text></g>
<g id="t15n115" class="nd" transform="translate(1352 1391)"><ellipse rx="14" ry="15.5"/><text y="-4">115</text><text y="8.5">0</text></g>

<g id="t16n110" class="nd" transform="translate(1517 1292)"><ellipse rx="14" ry="15.5"/><text y="-4">110</text><text y="8.5">-1</text></g>
<g id="t16n95" class="nd" transform="translate(1468 1341)"><ellipse rx="14" ry="15.5"/><text y="-4">95</text><text y="8.5">-1</text></g>
<g id="t16n115" class="nd" transform="translate(1565 1341)"><ellipse rx="14" ry="15.5"/><text y="-4">115</text><text y="8.5">0</text></g>
<g id="t16n93" class="nd" transform="translate(1429 1391)"><ellipse rx="14" ry="15.5"/><text y="-4">93</text><text y="8.5">0</text></g>

<g id="t17n90" class="nd" transform="translate(209 1516)"><ellipse rx="14" ry="15.5"/><text y="-4">90</text><text y="8.5">0</text></g>
<g id="t17n50" class="nd" transform="translate(131 1565)"><ellipse rx="14" ry="15.5"/><text y="-4">50</text><text y="8.5">-1</text></g>
<g id="t17n100" class="nd" transform="translate(296 1565)"><ellipse rx="14" ry="15.5"/><text y="-4">100</text><text y="8.5">0</text><circle class="del" r="33.5"/></g>
<g id="t17n30" class="nd" transform="translate(82 1613)"><ellipse rx="14" ry="15.5"/><text y="-4">30</text><text y="8.5">-1</text></g>
<g id="t17n85" class="nd" transform="translate(179 1613)"><ellipse rx="14" ry="15.5"/><text y="-4">85</text><text y="8.5">0</text></g>
<g id="t17n95" class="nd" transform="translate(247 1613)"><ellipse rx="14" ry="15.5"/><text y="-4">95</text><text y="8.5">-1</text></g>
<g id="t17n110" class="nd" transform="translate(344 1613)"><ellipse rx="14" ry="15.5"/><text y="-4">110</text><text y="8.5">0</text></g>
<g id="t17n10" class="nd" transform="translate(34 1661)"><ellipse rx="14" ry="15.5"/><text y="-4">10</text><text y="8.5">0</text></g>
<g id="t17n93" class="nd" transform="translate(199 1661)"><ellipse rx="14" ry="15.5"/><text y="-4">93</text><text y="8.5">0</text></g>
<g id="t17n105" class="nd" transform="translate(296 1661)"><ellipse rx="14" ry="15.5"/><text y="-4">105</text><text y="8.5">0</text></g>
<g id="t17n115" class="nd" transform="translate(392 1661)"><ellipse rx="14" ry="15.5"/><text y="-4">115</text><text y="8.5">0</text></g>

<g id="t18n90" class="nd" transform="translate(732 1516)"><ellipse rx="14" ry="15.5"/><text y="-4">90</text><text y="8.5">0</text></g>
<g id="t18n50" class="nd" transform="translate(654 1565)"><ellipse rx="14" ry="15.5"/><text y="-4">50</text><text y="8.5">-1</text></g>
<g id="t18n105" class="nd" transform="translate(819 1565)"><ellipse rx="14" ry="15.5"/><text y="-4">105</text><text y="8.5">0</text></g>
<g id="t18n30" class="nd" transform="translate(606 1613)"><ellipse rx="14" ry="15.5"/><text y="-4">30</text><text y="8.5">-1</text></g>
<g id="t18n85" class="nd" transform="translate(703 1613)"><ellipse rx="14" ry="15.5"/><text y="-4">85</text><text y="8.5">0</text></g>
<g id="t18n95" class="nd" transform="translate(771 1613)"><ellipse rx="14" ry="15.5"/><text y="-4">95</text><text y="8.5">-1</text></g>
<g id="t18n110" class="nd" transform="translate(867 1613)"><ellipse rx="14" ry="15.5"/><text y="-4">110</text><text y="8.5">1</text></g>
<g id="t18n10" class="nd" transform="translate(557 1661)"><ellipse rx="14" ry="15.5"/><text y="-4">10</text><text y="8.5">0</text></g>
<g id="t18n93" class="nd" transform="translate(722 1661)"><ellipse rx="14" ry="15.5"/><text y="-4">93</text><text y="8.5">0</text></g>
<g id="t18n115" class="nd" transform="translate(916 1661)"><ellipse rx="14" ry="15.5"/><text y="-4">115</text><text y="8.5">0</text></g>

<g id="t19n100" class="nd" transform="translate(1264 1565)"><ellipse rx="14" ry="15.5"/><text y="-4">100</text><text y="8.5">0</text><circle class="del" r="33.5"/></g>
<g id="t19n95" class="nd" transform="translate(1216 1613)"><ellipse rx="14" ry="15.5"/><text y="-4">95</text><text y="8.5">0</text></g>
<g id="t19n110" class="nd" transform="translate(1313 1613)"><ellipse rx="14" ry="15.5"/><text y="-4">110</text><text y="8.5">1</text></g>
<g id="t19n93" class="nd" transform="translate(1168 1661)"><ellipse rx="14" ry="15.5"/><text y="-4">93</text><text y="8.5">0</text></g>
<g id="t19n105" class="nd" transform="translate(1264 1661)"><ellipse rx="14" ry="15.5"/><text y="-4">105</text><text y="8.5">0</text></g>
<g id="t19n115" class="nd" transform="translate(1361 1661)"><ellipse rx="14" ry="15.5"/><text y="-4">115</text><text y="8.5">0</text></g>

<g id="t20n105" class="nd" transform="translate(1536 1564)"><ellipse rx="14" ry="15.5"/><text y="-4">105</text><text y="8.5">0</text></g>
<g id="t20n95" class="nd" transform="translate(1487 1612)"><ellipse rx="14" ry="15.5"/><text y="-4">95</text><text y="8.5">-1</text></g>
<g id="t20n110" class="nd" transform="translate(1584 1612)"><ellipse rx="14" ry="15.5"/><text y="-4">110</text><text y="8.5">1</text></g>
<g id="t20n93" class="nd" transform="translate(1439 1661)"><ellipse rx="14" ry="15.5"/><text y="-4">93</text><text y="8.5">0</text></g>
<g id="t20n115" class="nd" transform="translate(1632 1661)"><ellipse rx="14" ry="15.5"/><text y="-4">115</text><text y="8.5">0</text></g>

<g id="t21n90" class="nd" transform="translate(211 1807)"><ellipse rx="14" ry="15.5"/><text y="-4">90</text><text y="8.5">1</text></g>
<g id="t21n50" class="nd" transform="translate(134 1855)"><ellipse rx="14" ry="15.5"/><text y="-4">50</text><text y="8.5">-1</text></g>
<g id="t21n100" class="nd" transform="translate(298 1855)"><ellipse rx="14" ry="15.5"/><text y="-4">100</text><text y="8.5">1</text><circle class="del" r="33.5"/></g>
<g id="t21n30" class="nd" transform="translate(85 1904)"><ellipse rx="14" ry="15.5"/><text y="-4">30</text><text y="8.5">-1</text></g>
<g id="t21n85" class="nd" transform="translate(182 1904)"><ellipse rx="14" ry="15.5"/><text y="-4">85</text><text y="8.5">0</text></g>
<g id="t21n95" class="nd" transform="translate(250 1904)"><ellipse rx="14" ry="15.5"/><text y="-4">95</text><text y="8.5">-1</text></g>
<g id="t21n110" class="nd" transform="translate(346 1904)"><ellipse rx="14" ry="15.5"/><text y="-4">110</text><text y="8.5">-1</text></g>
<g id="t21n10" class="nd" transform="translate(37 1952)"><ellipse rx="14" ry="15.5"/><text y="-4">10</text><text y="8.5">0</text></g>
<g id="t21n93" class="nd" transform="translate(201 1952)"><ellipse rx="14" ry="15.5"/><text y="-4">93</text><text y="8.5">0</text></g>
<g id="t21n105" class="nd" transform="translate(298 1952)"><ellipse rx="14" ry="15.5"/><text y="-4">105</text><text y="8.5">1</text></g>
<g id="t21n115" class="nd" transform="translate(395 1952)"><ellipse rx="14" ry="15.5"/><text y="-4">115</text><text y="8.5">0</text></g>
<g id="t21n108" class="nd" transform="translate(344 2002)"><ellipse rx="14" ry="15.5"/><text y="-4">108</text><text y="8.5">0</text></g>

<g id="t22n90" class="nd" transform="translate(734 1807)"><ellipse rx="14" ry="15.5"/><text y="-4">90</text><text y="8.5">0</text></g>
<g id="t22n50" class="nd" transform="translate(657 1855)"><ellipse rx="14" ry="15.5"/><text y="-4">50</text><text y="8.5">-1</text></g>
<g id="t22n105" class="nd" transform="translate(822 1855)"><ellipse rx="14" ry="15.5"/><text y="-4">105</text><text y="8.5">0</text></g>
<g id="t22n30" class="nd" transform="translate(609 1904)"><ellipse rx="14" ry="15.5"/><text y="-4">30</text><text y="8.5">-1</text></g>
<g id="t22n85" class="nd" transform="translate(706 1904)"><ellipse rx="14" ry="15.5"/><text y="-4">85</text><text y="8.5">0</text></g>
<g id="t22n95" class="nd" transform="translate(773 1904)"><ellipse rx="14" ry="15.5"/><text y="-4">95</text><text y="8.5">-1</text></g>
<g id="t22n110" class="nd" transform="translate(870 1904)"><ellipse rx="14" ry="15.5"/><text y="-4">110</text><text y="8.5">0</text></g>
<g id="t22n10" class="nd" transform="translate(560 1952)"><ellipse rx="14" ry="15.5"/><text y="-4">10</text><text y="8.5">0</text></g>
<g id="t22n93" class="nd" transform="translate(724 1952)"><ellipse rx="14" ry="15.5"/><text y="-4">93</text><text y="8.5">0</text></g>
<g id="t22n108" class="nd" transform="translate(838 1953)"><ellipse rx="14" ry="15.5"/><text y="-4">108</text><text y="8.5">0</text></g>
<g id="t22n115" class="nd" transform="translate(918 1953)"><ellipse rx="14" ry="15.5"/><text y="-4">115</text><text y="8.5">0</text></g>

<g id="t23n100" class="nd" transform="translate(1277 1806)"><ellipse rx="14" ry="15.5"/><text y="-4">100</text><text y="8.5">-1</text><circle class="del" r="33.5"/></g>
<g id="t23n95" class="nd" transform="translate(1228 1854)"><ellipse rx="14" ry="15.5"/><text y="-4">95</text><text y="8.5">1</text></g>
<g id="t23n110" class="nd" transform="translate(1325 1854)"><ellipse rx="14" ry="15.5"/><text y="-4">110</text><text y="8.5">1</text></g>
<g id="t23n93" class="nd" transform="translate(1180 1903)"><ellipse rx="14" ry="15.5"/><text y="-4">93</text><text y="8.5">0</text></g>
<g id="t23n105" class="nd" transform="translate(1277 1903)"><ellipse rx="14" ry="15.5"/><text y="-4">105</text><text y="8.5">1</text></g>
<g id="t23n115" class="nd" transform="translate(1374 1903)"><ellipse rx="14" ry="15.5"/><text y="-4">115</text><text y="8.5">0</text></g>
<g id="t23n108" class="nd" transform="translate(1313 1953)"><ellipse rx="14" ry="15.5"/><text y="-4">108</text><text y="8.5">0</text></g>

<g id="t24n105" class="nd" transform="translate(1575 1807)"><ellipse rx="14" ry="15.5"/><text y="-4">105</text><text y="8.5">0</text></g>
<g id="t24n95" class="nd" transform="translate(1526 1855)"><ellipse rx="14" ry="15.5"/><text y="-4">95</text><text y="8.5">-1</text></g>
<g id="t24n110" class="nd" transform="translate(1623 1855)"><ellipse rx="14" ry="15.5"/><text y="-4">110</text><text y="8.5">0</text></g>
<g id="t24n93" class="nd" transform="translate(1478 1903)"><ellipse rx="14" ry="15.5"/><text y="-4">93</text><text y="8.5">0</text></g>
<g id="t24n108" class="nd" transform="translate(1575 1903)"><ellipse rx="14" ry="15.5"/><text y="-4">108</text><text y="8.5">0</text></g>
<g id="t24n115" class="nd" transform="translate(1671 1903)"><ellipse rx="14" ry="15.5"/><text y="-4">115</text><text y="8.5">0</text></g>

<g id="t25n90" class="nd" transform="translate(211 2215)"><ellipse rx="14" ry="15.5"/><text y="-4">90</text><text y="8.5">-1</text></g>
<g id="t25n50" class="nd" transform="translate(134 2263)"><ellipse rx="14" ry="15.5"/><text y="-4">50</text><text y="8.5">-1</text></g>
<g id="t25n100" class="nd" transform="translate(298 2263)"><ellipse rx="14" ry="15.5"/><text y="-4">100</text><text y="8.5">-1</text><circle class="del" r="33.5"/></g>
<g id="t25n30" class="nd" transform="translate(85 2312)"><ellipse rx="14" ry="15.5"/><text y="-4">30</text><text y="8.5">-1</text></g>
<g id="t25n85" class="nd" transform="translate(182 2312)"><ellipse rx="14" ry="15.5"/><text y="-4">85</text><text y="8.5">0</text></g>
<g id="t25n95" class="nd" transform="translate(250 2312)"><ellipse rx="14" ry="15.5"/><text y="-4">95</text><text y="8.5">0</text></g>
<g id="t25n10" class="nd" transform="translate(37 2360)"><ellipse rx="14" ry="15.5"/><text y="-4">10</text><text y="8.5">0</text></g>

<g id="t26n90" class="nd" transform="translate(773 2215)"><ellipse rx="14" ry="15.5"/><text y="-4">90</text><text y="8.5">-2</text></g>
<g id="t26n50" class="nd" transform="translate(696 2263)"><ellipse rx="14" ry="15.5"/><text y="-4">50</text><text y="8.5">-1</text></g>
<g id="t26n95" class="nd" transform="translate(860 2263)"><ellipse rx="14" ry="15.5"/><text y="-4">95</text><text y="8.5">0</text></g>
<g id="t26n30" class="nd" transform="translate(648 2312)"><ellipse rx="14" ry="15.5"/><text y="-4">30</text><text y="8.5">-1</text></g>
<g id="t26n85" class="nd" transform="translate(744 2312)"><ellipse rx="14" ry="15.5"/><text y="-4">85</text><text y="8.5">0</text></g>
<g id="t26n10" class="nd" transform="translate(599 2360)"><ellipse rx="14" ry="15.5"/><text y="-4">10</text><text y="8.5">0</text></g>

<g id="t27n50" class="nd" transform="translate(1228 2215)"><ellipse rx="14" ry="15.5"/><text y="-4">50</text><text y="8.5">0</text></g>
<g id="t27n30" class="nd" transform="translate(1151 2263)"><ellipse rx="14" ry="15.5"/><text y="-4">30</text><text y="8.5">-1</text></g>
<g id="t27n90" class="nd" transform="translate(1316 2263)"><ellipse rx="14" ry="15.5"/><text y="-4">90</text><text y="8.5">0</text></g>
<g id="t27n10" class="nd" transform="translate(1102 2312)"><ellipse rx="14" ry="15.5"/><text y="-4">10</text><text y="8.5">0</text></g>
<g id="t27n85" class="nd" transform="translate(1267 2312)"><ellipse rx="14" ry="15.5"/><text y="-4">85</text><text y="8.5">0</text></g>
<g id="t27n95" class="nd" transform="translate(1374 2313)"><ellipse rx="14" ry="15.5"/><text y="-4">95</text><text y="8.5">0</text></g>

<g id="t28n100" class="nd" transform="translate(1548 2215)"><ellipse rx="14" ry="15.5"/><text y="-4">100</text><text y="8.5">-1</text><circle class="del" r="33.5"/></g>
<g id="t28n95" class="nd" transform="translate(1499 2263)"><ellipse rx="14" ry="15.5"/><text y="-4">95</text><text y="8.5">0</text></g>
<g id="t29n95" class="nd" transform="translate(1693 2213)"><ellipse rx="14" ry="15.5"/><text y="-4">95</text><text y="8.5">0</text></g>

<g id="t30n90" class="nd" transform="translate(453 2571)"><ellipse rx="14" ry="15.5"/><text y="-4">90</text><text y="8.5">0</text></g>
<g id="t30n50" class="nd" transform="translate(376 2619)"><ellipse rx="14" ry="15.5"/><text y="-4">50</text><text y="8.5">-1</text></g>
<g id="t30n100" class="nd" transform="translate(540 2619)"><ellipse rx="14" ry="15.5"/><text y="-4">100</text><text y="8.5">1</text></g>
<g id="t30n30" class="nd" transform="translate(327 2668)"><ellipse rx="14" ry="15.5"/><text y="-4">30</text><text y="8.5">-1</text></g>
<g id="t30n85" class="nd" transform="translate(424 2668)"><ellipse rx="14" ry="15.5"/><text y="-4">85</text><text y="8.5">0</text></g>
<g id="t30n95" class="nd" transform="translate(492 2668)"><ellipse rx="14" ry="15.5"/><text y="-4">95</text><text y="8.5">0</text><circle class="del" r="33.5"/></g>
<g id="t30n110" class="nd" transform="translate(589 2668)"><ellipse rx="14" ry="15.5"/><text y="-4">110</text><text y="8.5">1</text></g>
<g id="t30n10" class="nd" transform="translate(279 2717)"><ellipse rx="14" ry="15.5"/><text y="-4">10</text><text y="8.5">0</text></g>
<g id="t30n115" class="nd" transform="translate(637 2717)"><ellipse rx="14" ry="15.5"/><text y="-4">115</text><text y="8.5">0</text></g>

<g id="t31n90" class="nd" transform="translate(889 2571)"><ellipse rx="14" ry="15.5"/><text y="-4">90</text><text y="8.5">0</text></g>
<g id="t31n50" class="nd" transform="translate(812 2619)"><ellipse rx="14" ry="15.5"/><text y="-4">50</text><text y="8.5">-1</text></g>
<g id="t31n100" class="nd" transform="translate(977 2619)"><ellipse rx="14" ry="15.5"/><text y="-4">100</text><text y="8.5">2</text></g>
<g id="t31n30" class="nd" transform="translate(763 2668)"><ellipse rx="14" ry="15.5"/><text y="-4">30</text><text y="8.5">-1</text></g>
<g id="t31n85" class="nd" transform="translate(860 2668)"><ellipse rx="14" ry="15.5"/><text y="-4">85</text><text y="8.5">0</text></g>
<g id="t31n110" class="nd" transform="translate(1025 2668)"><ellipse rx="14" ry="15.5"/><text y="-4">110</text><text y="8.5">1</text></g>
<g id="t31n10" class="nd" transform="translate(715 2717)"><ellipse rx="14" ry="15.5"/><text y="-4">10</text><text y="8.5">0</text></g>
<g id="t31n115" class="nd" transform="translate(1073 2717)"><ellipse rx="14" ry="15.5"/><text y="-4">115</text><text y="8.5">0</text></g>

<g id="t32n90" class="nd" transform="translate(1306 2571)"><ellipse rx="14" ry="15.5"/><text y="-4">90</text><text y="8.5">-1</text></g>
<g id="t32n50" class="nd" transform="translate(1228 2619)"><ellipse rx="14" ry="15.5"/><text y="-4">50</text><text y="8.5">-1</text></g>
<g id="t32n110" class="nd" transform="translate(1393 2619)"><ellipse rx="14" ry="15.5"/><text y="-4">110</text><text y="8.5">0</text></g>
<g id="t32n30" class="nd" transform="translate(1180 2668)"><ellipse rx="14" ry="15.5"/><text y="-4">30</text><text y="8.5">-1</text></g>
<g id="t32n85" class="nd" transform="translate(1277 2668)"><ellipse rx="14" ry="15.5"/><text y="-4">85</text><text y="8.5">0</text></g>
<g id="t32n100" class="nd" transform="translate(1344 2668)"><ellipse rx="14" ry="15.5"/><text y="-4">100</text><text y="8.5">0</text></g>
<g id="t32n115" class="nd" transform="translate(1441 2668)"><ellipse rx="14" ry="15.5"/><text y="-4">115</text><text y="8.5">0</text></g>
<g id="t32n10" class="nd" transform="translate(1131 2717)"><ellipse rx="14" ry="15.5"/><text y="-4">10</text><text y="8.5">0</text></g>

<g id="t33n90" class="nd" transform="translate(424 2942)"><ellipse rx="14" ry="15.5"/><text y="-4">90</text><text y="8.5">1</text></g>
<g id="t33n50" class="nd" transform="translate(346 2991)"><ellipse rx="14" ry="15.5"/><text y="-4">50</text><text y="8.5">1</text><circle class="del" r="33.5"/></g>
<g id="t33n100" class="nd" transform="translate(559 2991)"><ellipse rx="14" ry="15.5"/><text y="-4">100</text><text y="8.5">-1</text></g>
<g id="t33n85" class="nd" transform="translate(394 3039)"><ellipse rx="14" ry="15.5"/><text y="-4">85</text><text y="8.5">0</text></g>
<g id="t33n95" class="nd" transform="translate(511 3039)"><ellipse rx="14" ry="15.5"/><text y="-4">95</text><text y="8.5">-1</text></g>
<g id="t33n110" class="nd" transform="translate(598 3039)"><ellipse rx="14" ry="15.5"/><text y="-4">110</text><text y="8.5">0</text></g>
<g id="t33n92" class="nd" transform="translate(462 3088)"><ellipse rx="14" ry="15.5"/><text y="-4">92</text><text y="8.5">0</text></g>

<g id="t34n90" class="nd" transform="translate(792 2942)"><ellipse rx="14" ry="15.5"/><text y="-4">90</text><text y="8.5">2</text></g>
<g id="t34n85" class="nd" transform="translate(714 2991)"><ellipse rx="14" ry="15.5"/><text y="-4">85</text><text y="8.5">0</text></g>
<g id="t34n100" class="nd" transform="translate(927 2991)"><ellipse rx="14" ry="15.5"/><text y="-4">100</text><text y="8.5">-1</text></g>
<g id="t34n95" class="nd" transform="translate(880 3039)"><ellipse rx="14" ry="15.5"/><text y="-4">95</text><text y="8.5">-1</text></g>
<g id="t34n110" class="nd" transform="translate(967 3039)"><ellipse rx="14" ry="15.5"/><text y="-4">110</text><text y="8.5">0</text></g>
<g id="t34n92" class="nd" transform="translate(831 3088)"><ellipse rx="14" ry="15.5"/><text y="-4">92</text><text y="8.5">0</text></g>

<g id="t35n95" class="nd" transform="translate(1228 2942)"><ellipse rx="14" ry="15.5"/><text y="-4">95</text><text y="8.5">0</text></g>
<g id="t35n90" class="nd" transform="translate(1151 2991)"><ellipse rx="14" ry="15.5"/><text y="-4">90</text><text y="8.5">0</text></g>
<g id="t35n100" class="nd" transform="translate(1364 2991)"><ellipse rx="14" ry="15.5"/><text y="-4">100</text><text y="8.5">1</text></g>
<g id="t35n85" class="nd" transform="translate(1102 3039)"><ellipse rx="14" ry="15.5"/><text y="-4">85</text><text y="8.5">0</text></g>
<g id="t35n92" class="nd" transform="translate(1199 3039)"><ellipse rx="14" ry="15.5"/><text y="-4">92</text><text y="8.5">0</text></g>
<g id="t35n110" class="nd" transform="translate(1403 3039)"><ellipse rx="14" ry="15.5"/><text y="-4">110</text><text y="8.5">0</text></g>

<g id="t36n90" class="nd" transform="translate(462 3278)"><ellipse rx="14" ry="15.5"/><text y="-4">90</text><text y="8.5">0</text></g>
<g id="t36n50" class="nd" transform="translate(385 3326)"><ellipse rx="14" ry="15.5"/><text y="-4">50</text><text y="8.5">-1</text></g>
<g id="t36n100" class="nd" transform="translate(549 3326)"><ellipse rx="14" ry="15.5"/><text y="-4">100</text><text y="8.5">1</text></g>
<g id="t36n30" class="nd" transform="translate(336 3374)"><ellipse rx="14" ry="15.5"/><text y="-4">30</text><text y="8.5">-1</text></g>
<g id="t36n85" class="nd" transform="translate(433 3374)"><ellipse rx="14" ry="15.5"/><text y="-4">85</text><text y="8.5">0</text><circle class="del" r="33.5"/></g>
<g id="t36n95" class="nd" transform="translate(501 3374)"><ellipse rx="14" ry="15.5"/><text y="-4">95</text><text y="8.5">0</text></g>
<g id="t36n110" class="nd" transform="translate(598 3374)"><ellipse rx="14" ry="15.5"/><text y="-4">110</text><text y="8.5">1</text></g>
<g id="t36n10" class="nd" transform="translate(289 3423)"><ellipse rx="14" ry="15.5"/><text y="-4">10</text><text y="8.5">0</text></g>
<g id="t36n115" class="nd" transform="translate(646 3423)"><ellipse rx="14" ry="15.5"/><text y="-4">115</text><text y="8.5">0</text></g>

<g id="t37n90" class="nd" transform="translate(899 3278)"><ellipse rx="14" ry="15.5"/><text y="-4">90</text><text y="8.5">0</text></g>
<g id="t37n50" class="nd" transform="translate(821 3326)"><ellipse rx="14" ry="15.5"/><text y="-4">50</text><text y="8.5">-2</text></g>
<g id="t37n100" class="nd" transform="translate(986 3326)"><ellipse rx="14" ry="15.5"/><text y="-4">100</text><text y="8.5">1</text></g>
<g id="t37n30" class="nd" transform="translate(772 3374)"><ellipse rx="14" ry="15.5"/><text y="-4">30</text><text y="8.5">-1</text></g>
<g id="t37n95" class="nd" transform="translate(937 3374)"><ellipse rx="14" ry="15.5"/><text y="-4">95</text><text y="8.5">0</text></g>
<g id="t37n110" class="nd" transform="translate(1034 3374)"><ellipse rx="14" ry="15.5"/><text y="-4">110</text><text y="8.5">1</text></g>
<g id="t37n10" class="nd" transform="translate(724 3423)"><ellipse rx="14" ry="15.5"/><text y="-4">10</text><text y="8.5">0</text></g>
<g id="t37n115" class="nd" transform="translate(1083 3423)"><ellipse rx="14" ry="15.5"/><text y="-4">115</text><text y="8.5">0</text></g>

<g id="t38n90" class="nd" transform="translate(1267 3278)"><ellipse rx="14" ry="15.5"/><text y="-4">90</text><text y="8.5">1</text></g>
<g id="t38n30" class="nd" transform="translate(1189 3326)"><ellipse rx="14" ry="15.5"/><text y="-4">30</text><text y="8.5">0</text></g>
<g id="t38n100" class="nd" transform="translate(1354 3326)"><ellipse rx="14" ry="15.5"/><text y="-4">100</text><text y="8.5">1</text></g>
<g id="t38n10" class="nd" transform="translate(1141 3374)"><ellipse rx="14" ry="15.5"/><text y="-4">10</text><text y="8.5">0</text></g>
<g id="t38n50" class="nd" transform="translate(1238 3374)"><ellipse rx="14" ry="15.5"/><text y="-4">50</text><text y="8.5">0</text></g>
<g id="t38n95" class="nd" transform="translate(1306 3374)"><ellipse rx="14" ry="15.5"/><text y="-4">95</text><text y="8.5">0</text></g>
<g id="t38n110" class="nd" transform="translate(1403 3374)"><ellipse rx="14" ry="15.5"/><text y="-4">110</text><text y="8.5">1</text></g>
<g id="t38n115" class="nd" transform="translate(1451 3423)"><ellipse rx="14" ry="15.5"/><text y="-4">115</text><text y="8.5">0</text></g>

<g id="t39n90" class="nd" transform="translate(462 3617)"><ellipse rx="14" ry="15.5"/><text y="-4">90</text><text y="8.5">-1</text></g>
<g id="t39n50" class="nd" transform="translate(385 3666)"><ellipse rx="14" ry="15.5"/><text y="-4">50</text><text y="8.5">-1</text></g>
<g id="t39n100" class="nd" transform="translate(550 3666)"><ellipse rx="14" ry="15.5"/><text y="-4">100</text><text y="8.5">-1</text></g>
<g id="t39n30" class="nd" transform="translate(336 3714)"><ellipse rx="14" ry="15.5"/><text y="-4">30</text><text y="8.5">-1</text></g>
<g id="t39n85" class="nd" transform="translate(433 3714)"><ellipse rx="14" ry="15.5"/><text y="-4">85</text><text y="8.5">0</text></g>
<g id="t39n95" class="nd" transform="translate(501 3714)"><ellipse rx="14" ry="15.5"/><text y="-4">95</text><text y="8.5">0</text><circle class="del" r="33.5"/></g>
<g id="t39n10" class="nd" transform="translate(289 3762)"><ellipse rx="14" ry="15.5"/><text y="-4">10</text><text y="8.5">0</text></g>

<g id="t40n90" class="nd" transform="translate(880 3617)"><ellipse rx="14" ry="15.5"/><text y="-4">90</text><text y="8.5">-2</text></g>
<g id="t40n50" class="nd" transform="translate(802 3666)"><ellipse rx="14" ry="15.5"/><text y="-4">50</text><text y="8.5">-1</text></g>
<g id="t40n100" class="nd" transform="translate(967 3666)"><ellipse rx="14" ry="15.5"/><text y="-4">100</text><text y="8.5">0</text></g>
<g id="t40n30" class="nd" transform="translate(754 3714)"><ellipse rx="14" ry="15.5"/><text y="-4">30</text><text y="8.5">-1</text></g>
<g id="t40n85" class="nd" transform="translate(850 3714)"><ellipse rx="14" ry="15.5"/><text y="-4">85</text><text y="8.5">0</text></g>
<g id="t40n10" class="nd" transform="translate(705 3762)"><ellipse rx="14" ry="15.5"/><text y="-4">10</text><text y="8.5">0</text></g>

<g id="t41n50" class="nd" transform="translate(1238 3617)"><ellipse rx="14" ry="15.5"/><text y="-4">50</text><text y="8.5">0</text></g>
<g id="t41n30" class="nd" transform="translate(1161 3666)"><ellipse rx="14" ry="15.5"/><text y="-4">30</text><text y="8.5">-1</text></g>
<g id="t41n90" class="nd" transform="translate(1325 3666)"><ellipse rx="14" ry="15.5"/><text y="-4">90</text><text y="8.5">0</text></g>
<g id="t41n10" class="nd" transform="translate(1112 3714)"><ellipse rx="14" ry="15.5"/><text y="-4">10</text><text y="8.5">0</text></g>
<g id="t41n85" class="nd" transform="translate(1277 3714)"><ellipse rx="14" ry="15.5"/><text y="-4">85</text><text y="8.5">0</text></g>
<g id="t41n100" class="nd" transform="translate(1383 3715)"><ellipse rx="14" ry="15.5"/><text y="-4">100</text><text y="8.5">0</text></g>

<g id="t42n90" class="nd" transform="translate(364 3888)"><ellipse rx="14" ry="15.5"/><text y="-4">90</text><text y="8.5">1</text></g>
<g id="t42n50" class="nd" transform="translate(286 3937)"><ellipse rx="14" ry="15.5"/><text y="-4">50</text><text y="8.5">1</text></g>
<g id="t42n100" class="nd" transform="translate(451 3937)"><ellipse rx="14" ry="15.5"/><text y="-4">100</text><text y="8.5">-1</text></g>
<g id="t42n85" class="nd" transform="translate(334 3986)"><ellipse rx="14" ry="15.5"/><text y="-4">85</text><text y="8.5">0</text><circle class="del" r="33.5"/></g>
<g id="t42n95" class="nd" transform="translate(402 3986)"><ellipse rx="14" ry="15.5"/><text y="-4">95</text><text y="8.5">1</text></g>
<g id="t42n110" class="nd" transform="translate(490 3986)"><ellipse rx="14" ry="15.5"/><text y="-4">110</text><text y="8.5">0</text></g>
<g id="t42n98" class="nd" transform="translate(451 4034)"><ellipse rx="14" ry="15.5"/><text y="-4">98</text><text y="8.5">0</text></g>

<g id="t43n90" class="nd" transform="translate(751 3888)"><ellipse rx="14" ry="15.5"/><text y="-4">90</text><text y="8.5">2</text></g>
<g id="t43n50" class="nd" transform="translate(674 3937)"><ellipse rx="14" ry="15.5"/><text y="-4">50</text><text y="8.5">0</text></g>
<g id="t43n100" class="nd" transform="translate(839 3937)"><ellipse rx="14" ry="15.5"/><text y="-4">100</text><text y="8.5">-1</text></g>
<g id="t43n95" class="nd" transform="translate(790 3986)"><ellipse rx="14" ry="15.5"/><text y="-4">95</text><text y="8.5">1</text></g>
<g id="t43n110" class="nd" transform="translate(892 3986)"><ellipse rx="14" ry="15.5"/><text y="-4">110</text><text y="8.5">0</text></g>
<g id="t43n98" class="nd" transform="translate(839 4034)"><ellipse rx="14" ry="15.5"/><text y="-4">98</text><text y="8.5">0</text></g>

<g id="t44n95" class="nd" transform="translate(1200 3888)"><ellipse rx="14" ry="15.5"/><text y="-4">95</text><text y="8.5">0</text></g>
<g id="t44n90" class="nd" transform="translate(1122 3937)"><ellipse rx="14" ry="15.5"/><text y="-4">90</text><text y="8.5">-1</text></g>
<g id="t44n100" class="nd" transform="translate(1287 3937)"><ellipse rx="14" ry="15.5"/><text y="-4">100</text><text y="8.5">0</text></g>
<g id="t44n50" class="nd" transform="translate(1072 3986)"><ellipse rx="14" ry="15.5"/><text y="-4">50</text><text y="8.5">0</text></g>
<g id="t44n98" class="nd" transform="translate(1239 3986)"><ellipse rx="14" ry="15.5"/><text y="-4">98</text><text y="8.5">0</text></g>
<g id="t44n110" class="nd" transform="translate(1336 3986)"><ellipse rx="14" ry="15.5"/><text y="-4">110</text><text y="8.5">0</text></g>
</g>
</svg>
